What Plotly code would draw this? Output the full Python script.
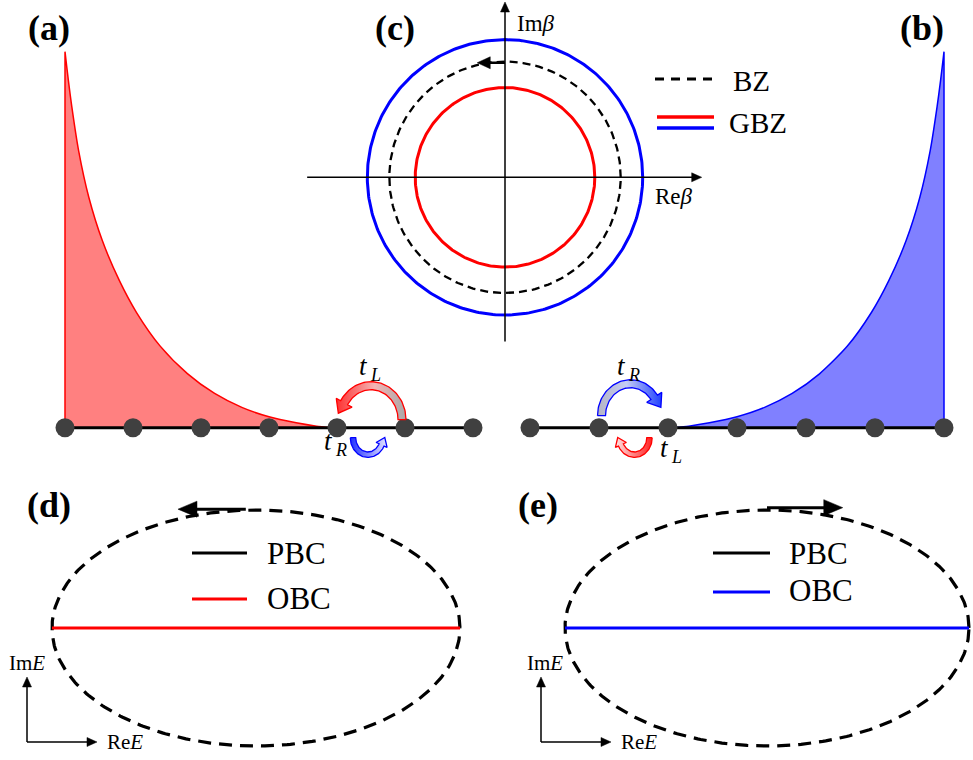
import numpy as np
import plotly.graph_objects as go

W, H = 973, 760

# ---------------- data ----------------
site_index = [0, 1, 2, 3, 4, 5, 6]
skin_pos = [0.0, 0.05, 0.10, 0.20, 0.35, 0.55, 0.80, 1.05, 1.40, 1.80, 2.20, 2.60, 3.00, 3.40, 3.70, 3.90]
skin_amp = [1.0, 0.923, 0.854, 0.737, 0.613, 0.497, 0.391, 0.307, 0.217, 0.144, 0.091, 0.054, 0.029, 0.013, 0.004, 0.0]
bz_radius = 1.0
gbz_radius_red = 0.776
gbz_radius_blue = 1.19
pbc_re_half = 2.0
pbc_im_half = 1.157
obc_re = [-2.0, 2.0]
obc_im = [0.0, 0.0]
panel_labels = ["(a)", "(b)", "(c)", "(d)", "(e)"]

SERIF = "Liberation Serif, Times New Roman, serif"

# ---------------- panel geometry (pixel frames) ----------------
PANELS = {
    1: dict(px=(0, 500), py=(20, 475), o=(65, 427.7), s=(68, 376)),
    2: dict(px=(490, 973), py=(20, 475), o=(530, 427.7), s=(69, 376)),
    3: dict(px=(300, 720), py=(0, 350), o=(505, 177.3), s=(115.7, 115.7)),
    4: dict(px=(0, 487), py=(470, 760), o=(256, 628), s=(102, 102)),
    5: dict(px=(487, 973), py=(470, 760), o=(767, 628), s=(101, 102)),
}


def d2px(n, x, y):
    g = PANELS[n]
    return g["o"][0] + g["s"][0] * x, g["o"][1] - g["s"][1] * y


def px2d(n, X, Y):
    g = PANELS[n]
    return (np.asarray(X) - g["o"][0]) / g["s"][0], (g["o"][1] - np.asarray(Y)) / g["s"][1]


def ax(n):
    return ("x" if n == 1 else f"x{n}"), ("y" if n == 1 else f"y{n}")


def P(px, py):
    return px / W, 1 - py / H


fig = go.Figure()
layout_axes = {}
for n, g in PANELS.items():
    (x0, x1), (y0, y1) = g["px"], g["py"]
    ox, oy = g["o"]
    sx, sy = g["s"]
    xk = "xaxis" if n == 1 else f"xaxis{n}"
    yk = "yaxis" if n == 1 else f"yaxis{n}"
    xa, ya = ax(n)
    layout_axes[xk] = dict(domain=[x0 / W, x1 / W], range=[(x0 - ox) / sx, (x1 - ox) / sx],
                           visible=False, anchor=ya, fixedrange=True)
    layout_axes[yk] = dict(domain=[1 - y1 / H, 1 - y0 / H], range=[(oy - y1) / sy, (oy - y0) / sy],
                           visible=False, anchor=xa, fixedrange=True)

# ---------------- (a) and (b): skin modes on chains ----------------
for n, xs, col, fill in [
    (1, skin_pos, "#ff0000", "#ff8080"),
    (2, [6 - u for u in skin_pos], "#0000ff", "#8080ff"),
]:
    xa, ya = ax(n)
    x_edge = xs[0]
    poly_x = [x_edge, x_edge, x_edge] + list(xs) + [xs[-1], xs[-1]]
    poly_y = [0, 0, skin_amp[0]] + list(skin_amp) + [0, 0]
    fig.add_trace(go.Scatter(x=poly_x, y=poly_y, mode="lines", fill="toself",
                             fillcolor=fill, line=dict(color=col, width=1.5, shape="spline", smoothing=0.7),
                             xaxis=xa, yaxis=ya, hoverinfo="skip", showlegend=False))
    fig.add_trace(go.Scatter(x=site_index, y=[0] * len(site_index), mode="lines+markers",
                             line=dict(color="black", width=3),
                             marker=dict(size=19, color="#404040"), cliponaxis=False,
                             xaxis=xa, yaxis=ya, hoverinfo="skip", showlegend=False))


def hop_arrow(n, cx, cy, rx, ry, th0, th1, w, hw, hl, col, cscale, m=60):
    t = np.radians(np.linspace(th0, th1, m))
    c, s = np.cos(t), np.sin(t)
    oxs, oys = cx + (rx + w) * c, cy - (ry + w) * s
    ixs, iys = cx + (rx - w) * c, cy - (ry - w) * s
    mx, my = cx + rx * c, cy - ry * s
    tx, ty = mx[-1] - mx[-2], my[-1] - my[-2]
    L = np.hypot(tx, ty)
    tx, ty = tx / L, ty / L
    nx, ny = -ty, tx
    ex, ey = mx[-1], my[-1]
    b1 = (ex + nx * hw, ey + ny * hw)
    b2 = (ex - nx * hw, ey - ny * hw)
    if np.hypot(b1[0] - oxs[-1], b1[1] - oys[-1]) > np.hypot(b2[0] - oxs[-1], b2[1] - oys[-1]):
        b1, b2 = b2, b1
    tip = (ex + tx * hl, ey + ty * hl)
    X = list(oxs) + [b1[0], tip[0], b2[0]] + list(ixs[::-1]) + [oxs[0]]
    Y = list(oys) + [b1[1], tip[1], b2[1]] + list(iys[::-1]) + [oys[0]]
    dx, dy = px2d(n, X, Y)
    xa, ya = ax(n)
    fig.add_trace(go.Scatter(x=dx, y=dy, mode="lines", fill="toself",
                             fillgradient=dict(type="horizontal", colorscale=cscale),
                             line=dict(color=col, width=1.3), xaxis=xa, yaxis=ya,
                             hoverinfo="skip", showlegend=False, cliponaxis=False))


# hopping arrows anchored between neighbouring sites
cxa, cya = d2px(1, 4.5, 0)
hop_arrow(1, cxa, cya - 8, 31, 34, 0, 150, 4, 9, 12, "#ff0000",
          [[0, "#ff3030"], [0.55, "#f4b4b4"], [1, "#a8a8a8"]])
hop_arrow(1, cxa - 3, cya + 10, 15, 17, 180, 335, 2.7, 6, 8, "#0000ff",
          [[0, "#2030ff"], [1, "#e4e4ff"]])
cxb, cyb = d2px(2, 1.5, 0)
hop_arrow(2, cxb - 3, cyb - 12, 29, 32, 180, 35, 4, 9, 12, "#0000ff",
          [[0, "#b4b4c4"], [0.45, "#c4ccf4"], [1, "#2040ff"]])
hop_arrow(2, cxb + 1, cyb + 10, 15, 17, 0, -155, 2.7, 6, 8, "#ff0000",
          [[0, "#ffe4e4"], [1, "#ff2020"]])

# ---------------- (c): BZ and GBZ ----------------
theta = np.linspace(0, 2 * np.pi, 361)
for r, col, dash, wd in [(gbz_radius_blue, "#0000ff", "solid", 3),
                         (gbz_radius_red, "#ff0000", "solid", 3),
                         (bz_radius, "black", "8px,5px", 2.3)]:
    fig.add_trace(go.Scatter(x=r * np.cos(theta), y=r * np.sin(theta), mode="lines",
                             line=dict(color=col, width=wd, dash=dash),
                             xaxis="x3", yaxis="y3", hoverinfo="skip", showlegend=False))

# ---------------- (d), (e): PBC and OBC spectra ----------------
kk = np.linspace(0, 2 * np.pi, 400)
for n, col in [(4, "#ff0000"), (5, "#0000ff")]:
    xa, ya = ax(n)
    fig.add_trace(go.Scatter(x=pbc_re_half * np.cos(kk), y=pbc_im_half * np.sin(kk), mode="lines",
                             line=dict(color="black", width=3.2, dash="13px,8px"),
                             xaxis=xa, yaxis=ya, hoverinfo="skip", showlegend=False))
    fig.add_trace(go.Scatter(x=obc_re, y=obc_im, mode="lines", line=dict(color=col, width=3),
                             xaxis=xa, yaxis=ya, hoverinfo="skip", showlegend=False))

ann = []
shapes = []


def arrow_px(x0, y0, x1, y1, lw, hl, hw):
    dx, dy = x1 - x0, y1 - y0
    L = np.hypot(dx, dy)
    ux, uy = dx / L, dy / L
    nx, ny = -uy, ux
    bx, by = x1 - ux * hl, y1 - uy * hl
    a0, b0 = P(x0, y0)
    a1, b1 = P(bx + ux * 2, by + uy * 2)
    shapes.append(dict(type="line", xref="paper", yref="paper", x0=a0, y0=b0, x1=a1, y1=b1,
                       line=dict(color="black", width=lw)))
    pts = [(x1, y1), (bx + nx * hw / 2, by + ny * hw / 2), (bx - nx * hw / 2, by - ny * hw / 2)]
    path = "M " + " L ".join(f"{P(px, py)[0]:.5f},{P(px, py)[1]:.5f}" for px, py in pts) + " Z"
    shapes.append(dict(type="path", xref="paper", yref="paper", path=path,
                       fillcolor="black", line=dict(color="black", width=0.5)))


def arrow_data(n, x1, y1, x0, y0, lw, hl, hw):
    X0, Y0 = d2px(n, x0, y0)
    X1, Y1 = d2px(n, x1, y1)
    arrow_px(X0, Y0, X1, Y1, lw, hl, hw)


def text(px, py, s, size, xanchor="center", color="black"):
    x, y = P(px, py)
    ann.append(dict(x=x, y=y, xref="paper", yref="paper", text=s, showarrow=False,
                    xanchor=xanchor, yanchor="middle",
                    font=dict(family=SERIF, size=size, color=color)))


def hop_label(px, py, sub):
    # italic t with an italic subscript, drawn as two texts
    text(px, py, "<i>t</i>", 27)
    text(px + 5, py + 9, f"<i>{sub}</i>", 18, "left")


def hline(px0, px1, py, col, width, dash="solid"):
    x0, y0 = P(px0, py)
    x1, _ = P(px1, py)
    shapes.append(dict(type="line", xref="paper", yref="paper", x0=x0, x1=x1, y0=y0, y1=y0,
                       line=dict(color=col, width=width, dash=dash)))


# (c) axes with arrows
arrow_data(3, 1.70, 0, -1.71, 0, 1.5, 10, 9)
arrow_data(3, 0, 1.515, 0, -1.42, 1.5, 10, 9)
# direction on BZ
arrow_data(3, -0.24, 0.99, 0.0, 0.99, 2.5, 13, 12)
text(536, 24, "Im<i>β</i>", 23)
text(674, 196, "Re<i>β</i>", 23)

# (c) legend
hline(655, 713, 79, "black", 3, "9px,7px")
text(731, 81, "BZ", 29, "left")
hline(657, 714, 117, "#ff0000", 3.5)
hline(657, 714, 128, "#0000ff", 3.5)
text(727, 123, "GBZ", 29, "left")

# hopping labels
hop_label(363, 366, "L")
hop_label(328, 441, "R")
hop_label(621, 366, "R")
hop_label(664, 448, "L")

# (d), (e) circulation arrows on PBC loops
arrow_data(4, -0.765, 1.165, -0.10, 1.165, 3, 19, 16)
arrow_data(5, 0.75, 1.18, 0.0, 1.18, 3, 19, 16)

# (d), (e) legends
hline(192, 247, 553, "black", 3)
text(265, 553, "PBC", 31, "left")
hline(192, 247, 599, "#ff0000", 3)
text(265, 598, "OBC", 31, "left")
hline(713, 770, 553, "black", 3)
text(787, 553, "PBC", 31, "left")
hline(713, 770, 592, "#0000ff", 3)
text(787, 590, "OBC", 31, "left")

# (d), (e) complex-plane indicators
for cx0, lbl_x in [(27, 27), (541, 545)]:
    arrow_px(cx0, 742, cx0, 677, 1.5, 10, 9)
    arrow_px(cx0, 742, cx0 + 70, 742, 1.5, 10, 9)
    text(lbl_x, 663, "Im<i>E</i>", 21)
    text(cx0 + 78, 742, "Re<i>E</i>", 21, "left")

# panel labels
for lab, (px, py) in zip(panel_labels, [(49, 28), (922, 28), (395, 28), (49, 505), (538, 505)]):
    text(px, py, f"<b>{lab}</b>", 36)

fig.update_layout(
    width=W, height=H, autosize=False,
    margin=dict(l=0, r=0, t=0, b=0),
    paper_bgcolor="white", plot_bgcolor="rgba(0,0,0,0)",
    showlegend=False, annotations=ann, shapes=shapes,
    **layout_axes,
)

fig.write_html("out.html")
